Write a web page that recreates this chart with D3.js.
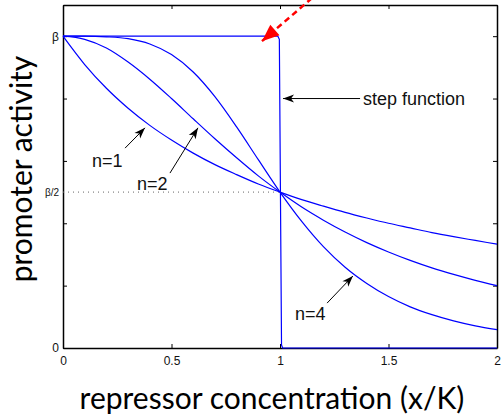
<!DOCTYPE html>
<html>
<head>
<meta charset="utf-8">
<script src="https://cdn.jsdelivr.net/npm/d3@7"></script>
<style>
  body { margin: 0; background: #fff; }
  .axis text { font-family: "Liberation Sans", Arial, sans-serif; font-size: 12px; fill: #111; }
  .axis path, .axis line { stroke: #000; }
  .note { font-family: "Liberation Sans", Arial, sans-serif; font-size: 18px; fill: #111; }
  .title { font-family: Lato, "Open Sans", sans-serif; font-size: 30px; fill: #000; }
</style>
</head>
<body>
<div id="chart"></div>
<script>
'use strict';

// x / K samples and the promoter activity (fraction of beta)
const xs = [0, 0.1, 0.2, 0.3, 0.4, 0.5, 0.6, 0.7, 0.8, 0.9, 1.0,
            1.1, 1.2, 1.3, 1.4, 1.5, 1.6, 1.7, 1.8, 1.9, 2.0];
const n1 = [1, 0.909, 0.833, 0.769, 0.714, 0.667, 0.625, 0.588, 0.556, 0.526, 0.5,
            0.476, 0.455, 0.435, 0.417, 0.4, 0.385, 0.370, 0.357, 0.345, 0.333];
const n2 = [1, 0.990, 0.962, 0.917, 0.862, 0.8, 0.735, 0.671, 0.610, 0.552, 0.5,
            0.452, 0.410, 0.372, 0.338, 0.308, 0.281, 0.257, 0.236, 0.217, 0.2];
const n4 = [1, 1.0, 0.998, 0.992, 0.975, 0.941, 0.885, 0.806, 0.709, 0.604, 0.5,
            0.406, 0.325, 0.259, 0.207, 0.165, 0.132, 0.107, 0.087, 0.071, 0.059];
const stepX = [0, 0.99, 0.997, 1.007, 1.012, 2.0];
const stepY = [1, 1, 0.99, 0.01, 0, 0];

const yTicks = [0, 0.2, 0.4, 0.5, 0.6, 0.8, 1];
const yTickLabels = { 0: "0", 0.5: "β/2", 1: "β" };
const xTicks = [0, 0.5, 1, 1.5, 2];

// annotations: label, text anchor, arrow start, arrow tip (data units)
const notes = [
    { label: "n=1", tx: 0.134, ty: 0.58, from: [0.286, 0.641], to: [0.378, 0.706] },
    { label: "n=2", tx: 0.341, ty: 0.507, from: [0.493, 0.561], to: [0.622, 0.706] },
    { label: "n=4", tx: 1.069, ty: 0.09, from: [1.217, 0.144], to: [1.336, 0.231] }
];
const stepNote = { label: "step function", tx: 1.382, ty: 0.8, from: [1.369, 0.8], to: [1.014, 0.8] };
const redArrow = { from: [1.147, 1.122], to: [0.917, 0.984] };

const width = 501;
const height = 415;
const margin = { top: 5, right: 4, bottom: 67, left: 63 };

const svg = d3.select("#chart")
    .append("svg")
    .attr("width", width)
    .attr("height", height);

const xScale = d3.scaleLinear()
    .domain([0, 2])
    .range([margin.left, width - margin.right]);

const yScale = d3.scaleLinear()
    .domain([0, 1.1])
    .range([height - margin.bottom, margin.top]);

const defs = svg.append("defs");
defs.append("marker")
    .attr("id", "head-black")
    .attr("markerUnits", "userSpaceOnUse")
    .attr("viewBox", "-12 -6 14 12")
    .attr("markerWidth", 14).attr("markerHeight", 12)
    .attr("refX", 0).attr("refY", 0)
    .attr("orient", "auto")
    .append("path")
    .attr("d", "M0,0 L-11,-4 L-8,0 L-11,4 Z")
    .attr("fill", "#000");
defs.append("marker")
    .attr("id", "head-red")
    .attr("markerUnits", "userSpaceOnUse")
    .attr("viewBox", "-18 -8 20 16")
    .attr("markerWidth", 20).attr("markerHeight", 16)
    .attr("refX", 0).attr("refY", 0)
    .attr("orient", "auto")
    .append("path")
    .attr("d", "M0,0 L-17,-7 L-17,7 Z")
    .attr("fill", "#ff0000");

// axes, ticks inside on all four sides
const fmtY = d => yTickLabels[d] !== undefined ? yTickLabels[d] : "";

svg.append("g")
    .attr("class", "axis x-axis")
    .attr("transform", `translate(0,${yScale(0)})`)
    .call(d3.axisBottom(xScale).tickValues(xTicks).tickSize(-4).tickSizeOuter(0).tickPadding(8)
        .tickFormat(d3.format("")));

svg.append("g")
    .attr("class", "axis")
    .attr("transform", `translate(0,${yScale(1.1)})`)
    .call(d3.axisTop(xScale).tickValues(xTicks).tickSize(-4).tickSizeOuter(0).tickFormat(""));

svg.append("g")
    .attr("class", "axis y-axis")
    .attr("transform", `translate(${xScale(0)},0)`)
    .call(d3.axisLeft(yScale).tickValues(yTicks).tickSize(-4).tickSizeOuter(0).tickPadding(4)
        .tickFormat(fmtY));

svg.append("g")
    .attr("class", "axis")
    .attr("transform", `translate(${xScale(2)},0)`)
    .call(d3.axisRight(yScale).tickValues(yTicks.filter(d => d !== 0.5)).tickSize(-4).tickSizeOuter(0).tickFormat(""));

svg.selectAll(".axis .domain").attr("stroke-width", 1.5);
svg.selectAll(".y-axis .tick")
    .filter(d => d === 0.5)
    .select("line").remove();
svg.selectAll(".y-axis .tick text")
    .filter(d => d === 0.5)
    .style("font-size", "10px");

// dotted guide at beta/2
svg.append("line")
    .attr("x1", xScale(0)).attr("x2", xScale(1))
    .attr("y1", yScale(0.5)).attr("y2", yScale(0.5))
    .attr("stroke", "#666")
    .attr("stroke-width", 1)
    .attr("stroke-dasharray", "1,4");

// curves
const line = d3.line()
    .x(d => xScale(d[0]))
    .y(d => yScale(d[1]))
    .curve(d3.curveMonotoneX);

const series = [n1, n2, n4].map(vals => xs.map((x, i) => [x, vals[i]]));

svg.append("g")
    .selectAll("path")
    .data(series)
    .join("path")
    .attr("d", line)
    .attr("fill", "none")
    .attr("stroke", "#0000ff")
    .attr("stroke-width", 1.2);

const stepLine = d3.line()
    .x(d => xScale(d[0]))
    .y(d => yScale(d[1]));

svg.append("path")
    .datum(stepX.map((x, i) => [x, stepY[i]]))
    .attr("d", stepLine)
    .attr("fill", "none")
    .attr("stroke", "#0000ff")
    .attr("stroke-width", 1.2);

// annotations
const allNotes = notes.concat([stepNote]);

svg.append("g")
    .selectAll("line")
    .data(allNotes)
    .join("line")
    .attr("x1", d => xScale(d.from[0]))
    .attr("y1", d => yScale(d.from[1]))
    .attr("x2", d => xScale(d.to[0]))
    .attr("y2", d => yScale(d.to[1]))
    .attr("stroke", "#000")
    .attr("stroke-width", 1)
    .attr("marker-end", "url(#head-black)");

svg.append("g")
    .selectAll("text")
    .data(notes)
    .join("text")
    .attr("class", "note")
    .attr("x", d => xScale(d.tx))
    .attr("y", d => yScale(d.ty))
    .text(d => d.label);

svg.append("text")
    .attr("class", "note")
    .attr("x", xScale(stepNote.tx))
    .attr("y", yScale(stepNote.ty))
    .attr("dy", "0.35em")
    .text(stepNote.label);

svg.append("line")
    .attr("x1", xScale(redArrow.from[0]))
    .attr("y1", yScale(redArrow.from[1]))
    .attr("x2", xScale(redArrow.to[0]))
    .attr("y2", yScale(redArrow.to[1]))
    .attr("stroke", "#ff0000")
    .attr("stroke-width", 2.5)
    .attr("stroke-dasharray", "6,4")
    .attr("marker-end", "url(#head-red)");

// axis titles
svg.append("text")
    .attr("class", "title")
    .attr("x", 272)
    .attr("y", 409)
    .attr("text-anchor", "middle")
    .text("repressor concentration (x/K)");

svg.append("text")
    .attr("class", "title")
    .attr("transform", `translate(32,${169}) rotate(-90)`)
    .attr("text-anchor", "middle")
    .text("promoter activity");
</script>
</body>
</html>
